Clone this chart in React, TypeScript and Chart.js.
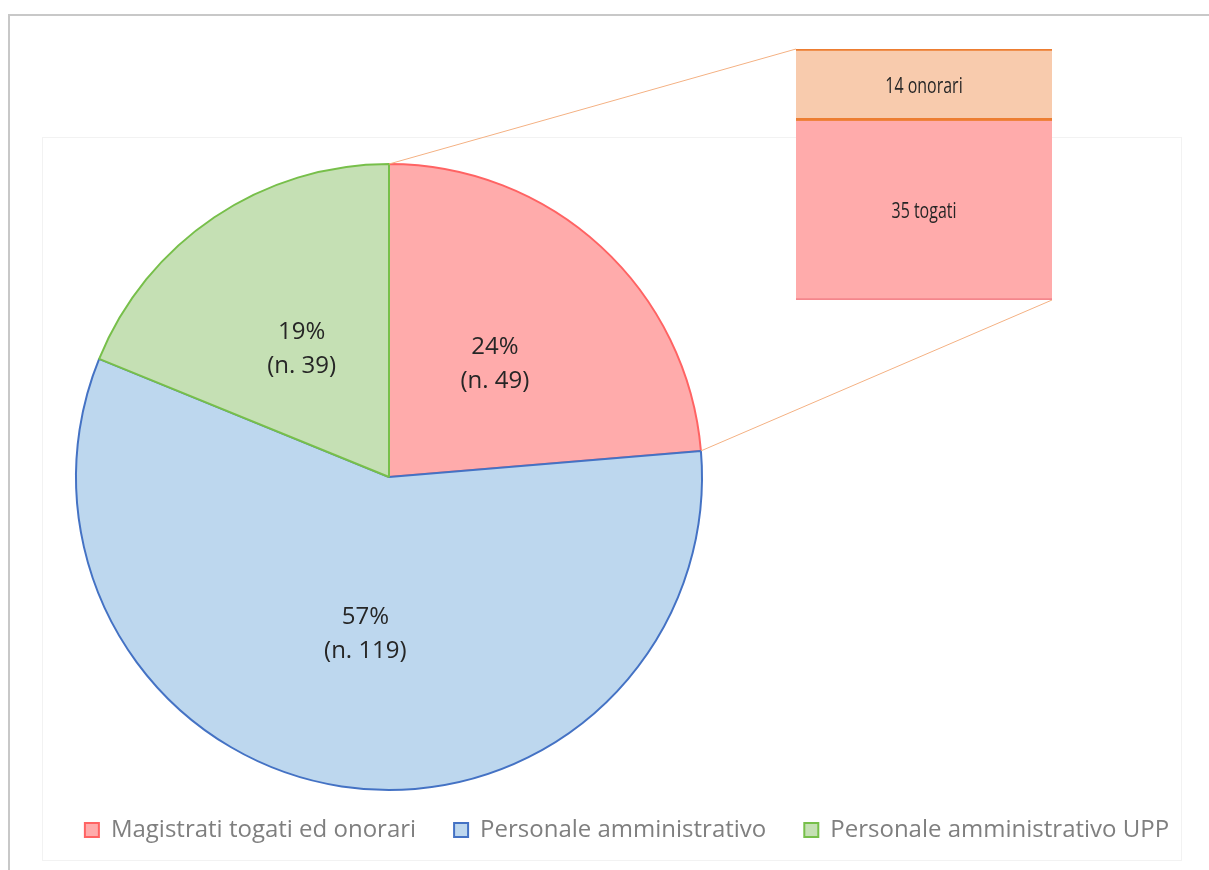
import React, { useEffect, useRef } from 'react';
import { Chart, registerables, layouts } from 'chart.js';

Chart.register(...registerables);

// ---- data ----
const categories = ['Magistrati togati ed onorari', 'Personale amministrativo', 'Personale amministrativo UPP'];
const counts = [49, 119, 39];
const sliceFill = ['#FFABAB', '#BDD7EE', '#C5E0B4'];
const sliceBorder = ['#FF6363', '#4472C4', '#77BF4A'];

const breakdownCategory = ['Magistrati'];
const breakdownLabels = ['togati', 'onorari'];
const togati = [35];
const onorari = [14];

// ---- layout constants ----
const BAR_LEFT = 796;
const BAR_TOP = 49;
const BAR_W = 256;
const BAR_H = 251;
const RIGHT_SPACER = 476;

const spacerPlugin = {
  id: 'rightSpacer',
  beforeInit(chart: any) {
    const box: any = {
      position: 'right',
      weight: 100,
      fullSize: false,
      options: {},
      width: 0,
      height: 0,
      left: 0,
      top: 0,
      right: 0,
      bottom: 0,
      isHorizontal() {
        return false;
      },
      update(maxWidth: number, maxHeight: number) {
        this.width = RIGHT_SPACER;
        this.height = maxHeight;
      },
      draw() {},
    };
    layouts.addBox(chart, box);
  },
};

const pieLabelPlugin = {
  id: 'pieLabels',
  afterDatasetsDraw(chart: any) {
    const ctx = chart.ctx;
    const meta = chart.getDatasetMeta(0);
    const data = chart.data.datasets[0].data as number[];
    const total = data.reduce((a, b) => a + b, 0);
    ctx.save();
    ctx.font = '24px "Open Sans"';
    ctx.fillStyle = '#262626';
    ctx.textAlign = 'center';
    ctx.textBaseline = 'middle';
    meta.data.forEach((arc: any, i: number) => {
      const p = arc.getCenterPoint();
      ctx.fillText(`${Math.round((data[i] / total) * 100)}%`, p.x, p.y - 15);
      ctx.fillText(`(n. ${data[i]})`, p.x, p.y + 19);
    });
    ctx.restore();
  },
};

const makeConnectorPlugin = (barChart: any) => ({
  id: 'connectors',
  afterDatasetsDraw(chart: any) {
    const ctx = chart.ctx;
    const arc = chart.getDatasetMeta(0).data[0];
    const { x, y, startAngle, endAngle, outerRadius } = arc.getProps(
      ['x', 'y', 'startAngle', 'endAngle', 'outerRadius'],
      true
    );
    const topEl = barChart.getDatasetMeta(1).data[0].getProps(['x', 'y', 'width'], true);
    const botEl = barChart.getDatasetMeta(0).data[0].getProps(['x', 'base', 'width'], true);
    ctx.save();
    ctx.strokeStyle = '#F4B183';
    ctx.lineWidth = 1;
    ctx.beginPath();
    ctx.moveTo(x + outerRadius * Math.cos(startAngle), y + outerRadius * Math.sin(startAngle));
    ctx.lineTo(BAR_LEFT + topEl.x - topEl.width / 2, BAR_TOP + topEl.y);
    ctx.moveTo(x + outerRadius * Math.cos(endAngle), y + outerRadius * Math.sin(endAngle));
    ctx.lineTo(BAR_LEFT + botEl.x + botEl.width / 2, BAR_TOP + botEl.base);
    ctx.stroke();
    ctx.restore();
  },
});

const barLabelPlugin = {
  id: 'barLabels',
  afterDatasetsDraw(chart: any) {
    const ctx = chart.ctx;
    chart.data.datasets.forEach((ds: any, di: number) => {
      const el = chart.getDatasetMeta(di).data[0];
      const { x, y, base } = el.getProps(['x', 'y', 'base'], true);
      ctx.save();
      ctx.font = '21px "Open Sans"';
      ctx.fillStyle = '#262626';
      ctx.textAlign = 'center';
      ctx.textBaseline = 'middle';
      ctx.translate(x, (y + base) / 2 + 2);
      ctx.scale(0.76, 1);
      ctx.fillText(`${ds.data[0]} ${ds.label}`, 0, 0);
      ctx.restore();
    });
  },
};

export default function App() {
  const pieRef = useRef<HTMLCanvasElement>(null);
  const barRef = useRef<HTMLCanvasElement>(null);

  useEffect(() => {
    const barChart = new Chart(barRef.current!, {
      type: 'bar',
      data: {
        labels: breakdownCategory,
        datasets: [
          {
            label: breakdownLabels[0],
            data: togati,
            backgroundColor: '#FFABAB',
            borderColor: '#F4868C',
            borderWidth: { top: 0, right: 0, bottom: 2, left: 0 },
            borderSkipped: false,
          },
          {
            label: breakdownLabels[1],
            data: onorari,
            backgroundColor: '#F8CBAD',
            borderColor: '#ED7D31',
            borderWidth: { top: 2, right: 0, bottom: 3, left: 0 },
            borderSkipped: false,
          },
        ],
      },
      options: {
        responsive: false,
        animation: false,
        events: [],
        layout: { padding: 0 },
        datasets: { bar: { barPercentage: 1, categoryPercentage: 1 } },
        scales: {
          x: { display: false, stacked: true },
          y: { display: false, stacked: true, min: 0, max: togati[0] + onorari[0] },
        },
        plugins: { legend: { display: false }, tooltip: { enabled: false } },
      } as any,
      plugins: [barLabelPlugin],
    });

    const pieChart = new Chart(pieRef.current!, {
      type: 'pie',
      data: {
        labels: categories,
        datasets: [
          {
            data: counts,
            backgroundColor: sliceFill,
            borderColor: sliceBorder,
            borderWidth: 2,
            radius: 313,
            clip: false,
          } as any,
        ],
      },
      options: {
        responsive: false,
        animation: false,
        events: [],
        layout: { padding: { left: 45, right: 0, top: 174, bottom: 18 } },
        plugins: {
          legend: {
            position: 'bottom',
            align: 'center',
            labels: {
              boxWidth: 14,
              boxHeight: 14,
              padding: 38,
              color: '#7F7F7F',
              font: { family: '"Open Sans"', size: 24 },
            },
          },
          tooltip: { enabled: false },
        },
      } as any,
      plugins: [spacerPlugin, pieLabelPlugin, makeConnectorPlugin(barChart)],
    });

    return () => {
      pieChart.destroy();
      barChart.destroy();
    };
  }, []);

  return (
    <div
      style={{
        position: 'absolute',
        left: 0,
        top: 0,
        width: 1209,
        height: 870,
        overflow: 'hidden',
        background: '#FFFFFF',
      }}
    >
      <div
        style={{
          position: 'absolute',
          left: 8,
          top: 14,
          width: 1400,
          height: 1000,
          borderLeft: '2px solid #C8C8C8',
          borderTop: '2px solid #C8C8C8',
        }}
      />
      <div
        style={{
          position: 'absolute',
          left: 42,
          top: 137,
          width: 1138,
          height: 722,
          border: '1px solid #F2F2F2',
        }}
      />
      <canvas ref={pieRef} width={1209} height={870} style={{ position: 'absolute', left: 0, top: 0 }} />
      <canvas
        ref={barRef}
        width={BAR_W}
        height={BAR_H}
        style={{ position: 'absolute', left: BAR_LEFT, top: BAR_TOP }}
      />
    </div>
  );
}
